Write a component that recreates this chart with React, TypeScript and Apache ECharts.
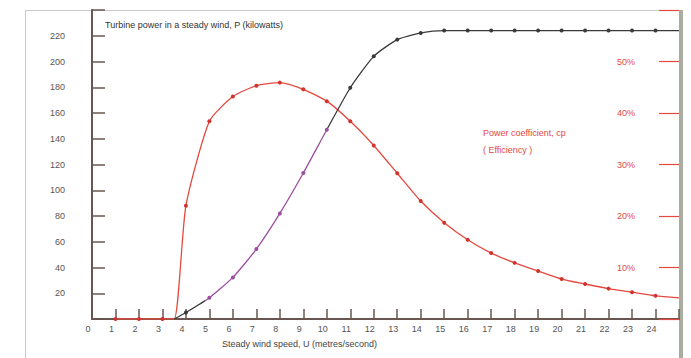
import React, { useEffect, useRef } from "react";
import * as echarts from "echarts";

const powerSpeeds = [3.5, 4, 5, 6, 7, 8, 9, 10, 11, 12, 13, 14, 15, 16, 17, 18, 19, 20, 21, 22, 23, 24, 25];
const powerValues = [0, 5, 16.5, 32.3, 54.3, 82, 113.4, 147, 179.6, 204, 217, 222.2, 224, 224, 224, 224, 224, 224, 224, 224, 224, 224, 224];

const cpSpeeds = [1, 2, 3, 3.5, 4, 5, 6, 7, 8, 9, 10, 11, 12, 13, 14, 15, 16, 17, 18, 19, 20, 21, 22, 23, 24, 25];
const cpValues = [0, 0, 0, 0, 22, 38.4, 43.2, 45.3, 45.9, 44.6, 42.3, 38.4, 33.7, 28.3, 22.9, 18.7, 15.4, 12.8, 10.9, 9.3, 7.75, 6.8, 5.9, 5.2, 4.5, 4.1];

const powerTitle = "Turbine power in a steady wind, P (kilowatts)";
const speedTitle = "Steady wind speed, U (metres/second)";
const cpTitle1 = "Power coefficient, cp";
const cpTitle2 = "( Efficiency )";

const RED = "#e4493f";
const AXIS = "#6a5650";
const FONT = "Liberation Sans, Arial, sans-serif";

export default function App() {
  const ref = useRef<HTMLDivElement>(null);
  useEffect(() => {
    document.body.style.margin = "0";
    const chart = echarts.init(ref.current!, null, { renderer: "svg" });
    const powerData = powerSpeeds.map((s, i) => ({
      value: [s, powerValues[i]],
      symbolSize: s === 3.5 || s === 25 ? 0 : 4,
    }));
    const cpData = cpSpeeds.map((s, i) => ({
      value: [s, cpValues[i]],
      symbolSize: s === 3.5 || s === 25 ? 0 : 4,
    }));
    chart.setOption({
      animation: false,
      backgroundColor: "#ffffff",
      grid: { left: 92, right: 12, top: 10, bottom: 39 },
      xAxis: {
        type: "value",
        min: 0,
        max: 25,
        interval: 1,
        axisLine: { lineStyle: { color: AXIS, width: 2 } },
        axisTick: { inside: true, length: 10, lineStyle: { color: AXIS, width: 1.5 } },
        splitLine: { show: false },
        axisLabel: {
          margin: 5,
          fontSize: 9,
          fontFamily: FONT,
          color: "#555",
          padding: [0, 8, 0, 0],
          formatter: (v: number) => (v === 25 ? "" : String(v)),
        },
      },
      yAxis: [
        {
          type: "value",
          min: 0,
          max: 240,
          interval: 20,
          axisLine: { show: true, lineStyle: { color: AXIS, width: 2 } },
          axisTick: { show: true, inside: true, length: 13, lineStyle: { color: AXIS, width: 1.5 } },
          splitLine: { show: false },
          axisLabel: {
            margin: 27,
            fontSize: 9,
            fontFamily: FONT,
            color: "#555",
            formatter: (v: number) => (v === 0 || v === 240 ? "" : String(v)),
          },
        },
        {
          type: "value",
          min: 0,
          max: 60,
          interval: 10,
          position: "right",
          axisLine: { show: false },
          axisTick: { show: true, inside: true, length: 20, lineStyle: { color: RED, width: 1.2 } },
          splitLine: { show: false },
          axisLabel: {
            inside: true,
            margin: 44,
            fontSize: 9,
            fontFamily: FONT,
            color: RED,
            formatter: (v: number) => (v === 0 || v === 60 ? "" : v + "%"),
          },
        },
      ],
      visualMap: {
        show: false,
        type: "piecewise",
        seriesIndex: 0,
        dimension: 0,
        pieces: [
          { lt: 4.8, color: "#3a3a3a" },
          { gte: 4.8, lte: 10, color: "#9a4f9e" },
          { gt: 10, color: "#3a3a3a" },
        ],
      },
      series: [
        {
          type: "line",
          yAxisIndex: 0,
          data: powerData,
          smooth: 0.2,
          symbol: "circle",
          lineStyle: { width: 1.3 },
          z: 3,
        },
        {
          type: "line",
          yAxisIndex: 1,
          data: cpData,
          smooth: 0.2,
          symbol: "circle",
          lineStyle: { width: 1.3, color: RED },
          itemStyle: { color: "#d0342c" },
          z: 2,
        },
      ],
      graphic: [
        {
          type: "rect",
          shape: { x: 25.5, y: 10.5, width: 654, height: 360 },
          style: { fill: "none", stroke: "#c9c9c9", lineWidth: 1 },
          silent: true,
          z: -1,
        },
        {
          type: "rect",
          shape: { x: 679, y: 10, width: 4, height: 348 },
          style: { fill: "#a7ae9f" },
          silent: true,
        },
        {
          type: "text",
          x: 105,
          y: 25,
          style: { text: powerTitle, fontSize: 9, fontFamily: FONT, fill: "#333", verticalAlign: "middle" },
        },
        {
          type: "text",
          x: 222,
          y: 344,
          style: { text: speedTitle, fontSize: 9, fontFamily: FONT, fill: "#444", verticalAlign: "middle" },
        },
        {
          type: "text",
          x: 483,
          y: 133,
          style: { text: cpTitle1, fontSize: 9, fontFamily: FONT, fill: RED, verticalAlign: "middle" },
        },
        {
          type: "text",
          x: 483,
          y: 150,
          style: { text: cpTitle2, fontSize: 9, fontFamily: FONT, fill: RED, verticalAlign: "middle" },
        },
      ],
    });
    return () => chart.dispose();
  }, []);
  return <div ref={ref} style={{ width: 691, height: 358, position: "fixed", left: 0, top: 0 }} />;
}
